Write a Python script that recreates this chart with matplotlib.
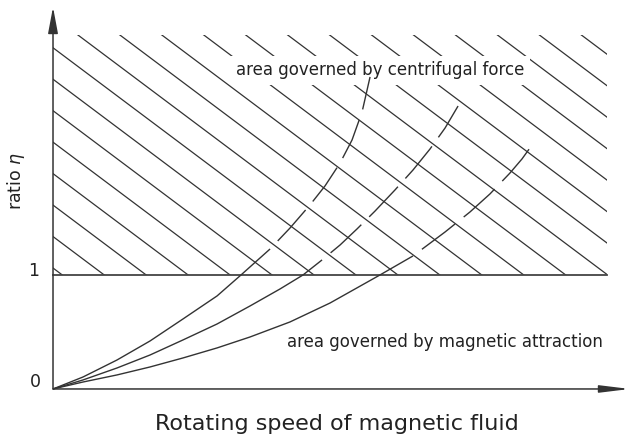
import numpy as np
import matplotlib.pyplot as plt
from matplotlib.patches import Rectangle

# curves (x: speed, y: ratio eta); solid up to index split, dashed after
c1_x = [0.0, 0.263, 0.561, 0.851, 1.140, 1.439, 1.649, 1.904, 2.079, 2.254, 2.386, 2.518, 2.623, 2.711, 2.781]
c1_y = [0.0, 0.105, 0.254, 0.421, 0.614, 0.816, 1.000, 1.228, 1.412, 1.614, 1.781, 1.982, 2.184, 2.430, 2.737]
c2_x = [0.0, 0.263, 0.561, 0.851, 1.140, 1.439, 1.728, 1.991, 2.193, 2.360, 2.518, 2.667, 2.825, 3.000,
        3.158, 3.307, 3.439, 3.553]
c2_y = [0.0, 0.079, 0.184, 0.298, 0.430, 0.570, 0.728, 0.877, 1.000, 1.132, 1.263, 1.404, 1.561, 1.746,
        1.921, 2.105, 2.289, 2.482]
c3_x = [0.0, 0.263, 0.561, 0.851, 1.140, 1.439, 1.728, 2.079, 2.430, 2.649, 2.868, 3.158, 3.439, 3.658,
        3.833, 4.009, 4.114, 4.202]
c3_y = [0.0, 0.061, 0.123, 0.193, 0.272, 0.360, 0.456, 0.588, 0.754, 0.877, 1.000, 1.167, 1.377, 1.553,
        1.711, 1.895, 2.018, 2.140]
splits = [7, 9, 11]

eta_limit = 1.0
region_top = 3.105
region_right = 4.86

label_top = "area governed by centrifugal force"
label_bottom = "area governed by magnetic attraction"
xlabel = "Rotating speed of magnetic fluid"
ylabel = r"ratio $\eta$"

ink = '#333333'

fig = plt.figure(figsize=(6.31, 4.34), dpi=100)
ax = fig.add_axes([0, 0, 1, 1])
ax.set_xlim(-0.465, 5.07)
ax.set_ylim(-0.395, 3.412)
ax.axis('off')

# hatched region above eta = 1
clip = Rectangle((0, eta_limit), region_right, region_top - eta_limit,
                 transform=ax.transData, facecolor='none', edgecolor='none')
ax.add_patch(clip)
slope = -0.75
c0 = 3.269
step = 0.276
u = np.array([-1.0, 7.0])
for c in np.arange(c0 - 10 * step, 7.0, step):
    ln, = ax.plot(u, c + slope * u, color=ink, lw=0.9, zorder=1)
    ln.set_clip_path(clip)

# eta = 1 line
ax.plot([0, region_right], [eta_limit, eta_limit], color='#444444', lw=1.3, zorder=2)

# curves
for xs, ys, k in [(c1_x, c1_y, splits[0]), (c2_x, c2_y, splits[1]), (c3_x, c3_y, splits[2])]:
    ax.plot(xs[:k + 1], ys[:k + 1], color=ink, lw=1.0, zorder=4, solid_capstyle='butt')
    ax.plot(xs[k:], ys[k:], color=ink, lw=1.0, zorder=4,
            linestyle=(30, (30, 8)), dash_capstyle='butt')

# axes with arrows
ax.annotate('', xy=(0, 3.35), xytext=(0, 0),
            arrowprops=dict(arrowstyle='-|>,head_length=0.8,head_width=0.15',
                            mutation_scale=20, color='#333333', lw=1.1,
                            shrinkA=0, shrinkB=0), zorder=3)
ax.annotate('', xy=(5.06, 0), xytext=(0, 0),
            arrowprops=dict(arrowstyle='-|>,head_length=0.9,head_width=0.11',
                            mutation_scale=20, color='#333333', lw=1.1,
                            shrinkA=0, shrinkB=0), zorder=3)

txt = '#222222'
ax.text(2.868, 2.754, label_top, ha='center', va='baseline', fontsize=12, color=txt,
        bbox=dict(facecolor='white', edgecolor='none', pad=4), zorder=3)
ax.text(3.439, 0.368, label_bottom, ha='center', va='baseline', fontsize=12, color=txt, zorder=3)
ax.text(2.49, -0.36, xlabel, ha='center', va='baseline', fontsize=16, color=txt)
ax.text(-0.325, 1.825, ylabel, ha='center', va='center', rotation=90, fontsize=12.5, color=txt)
ax.text(-0.167, 1.035, '1', ha='center', va='center', fontsize=12.5, color=txt)
ax.text(-0.158, 0.061, '0', ha='center', va='center', fontsize=12.5, color=txt)

fig.savefig('out.png', dpi=100)
